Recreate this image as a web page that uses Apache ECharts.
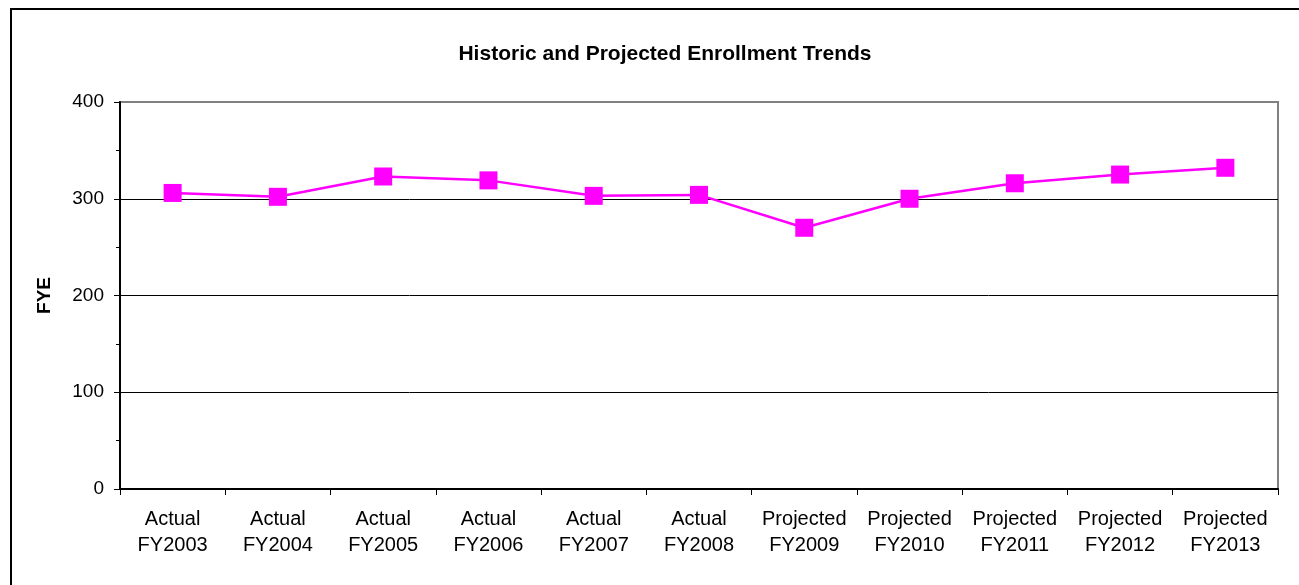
<!DOCTYPE html>
<html>
<head>
<meta charset="utf-8">
<script src="https://cdn.jsdelivr.net/npm/echarts@6/dist/echarts.min.js"></script>
<style>
    html, body { margin: 0; padding: 0; background: #fff; }
    #frame { position: absolute; left: 10px; top: 8px; width: 1300px; height: 600px; border-left: 2px solid #000; border-top: 2px solid #000; box-sizing: border-box; }
    #chart { width: 1299px; height: 585px; }
</style>
</head>
<body>
<div id="frame"></div>
<div id="chart"></div>
<script>
// categories on x axis
var years = ["Actual\nFY2003", "Actual\nFY2004", "Actual\nFY2005", "Actual\nFY2006", "Actual\nFY2007", "Actual\nFY2008",
    "Projected\nFY2009", "Projected\nFY2010", "Projected\nFY2011", "Projected\nFY2012", "Projected\nFY2013"];
// FYE enrollment
var fye = [306, 302, 323, 319, 303, 304, 270, 300, 316, 325, 332];

var chart = echarts.init(document.getElementById('chart'));
var font = 'Arial, "Liberation Sans", sans-serif';

var option = {
    animation: false,
    title: {
        text: "Historic and Projected Enrollment Trends",
        left: 660,
        textAlign: 'center',
        top: 39,
        textStyle: { fontFamily: font, fontSize: 21, fontWeight: 'bold', color: '#000' }
    },
    grid: { left: 120, right: 21, top: 102, bottom: 96, show: true, borderColor: '#808080', borderWidth: 2, backgroundColor: 'transparent' },
    xAxis: {
        type: 'category',
        data: years,
        boundaryGap: true,
        axisLine: { lineStyle: { color: '#000', width: 2 } },
        axisTick: { show: true, alignWithLabel: false, length: 6, lineStyle: { color: '#000' } },
        axisLabel: { fontFamily: font, fontSize: 20, color: '#000', lineHeight: 26, margin: 17, interval: 0 }
    },
    yAxis: {
        type: 'value',
        min: 0, max: 400, interval: 100,
        name: 'FYE',
        nameLocation: 'middle',
        nameGap: 66,
        nameTextStyle: { fontFamily: font, fontSize: 19, fontWeight: 'bold', color: '#000' },
        axisLine: { show: true, lineStyle: { color: '#000', width: 2 } },
        axisTick: { show: true, length: 6, lineStyle: { color: '#000' } },
        minorTick: { show: true, splitNumber: 2, length: 4, lineStyle: { color: '#000' } },
        splitLine: { show: true, lineStyle: { color: ['#000', '#000', '#000', '#000', '#808080'], width: 1 } },
        axisLabel: { fontFamily: font, fontSize: 19, color: '#000', margin: 16 }
    },
    series: [{
        type: 'line',
        data: fye,
        symbol: 'rect',
        symbolSize: 18,
        itemStyle: { color: '#FF00FF' },
        lineStyle: { color: '#FF00FF', width: 2.5 }
    }]
};
chart.setOption(option);
</script>
</body>
</html>
